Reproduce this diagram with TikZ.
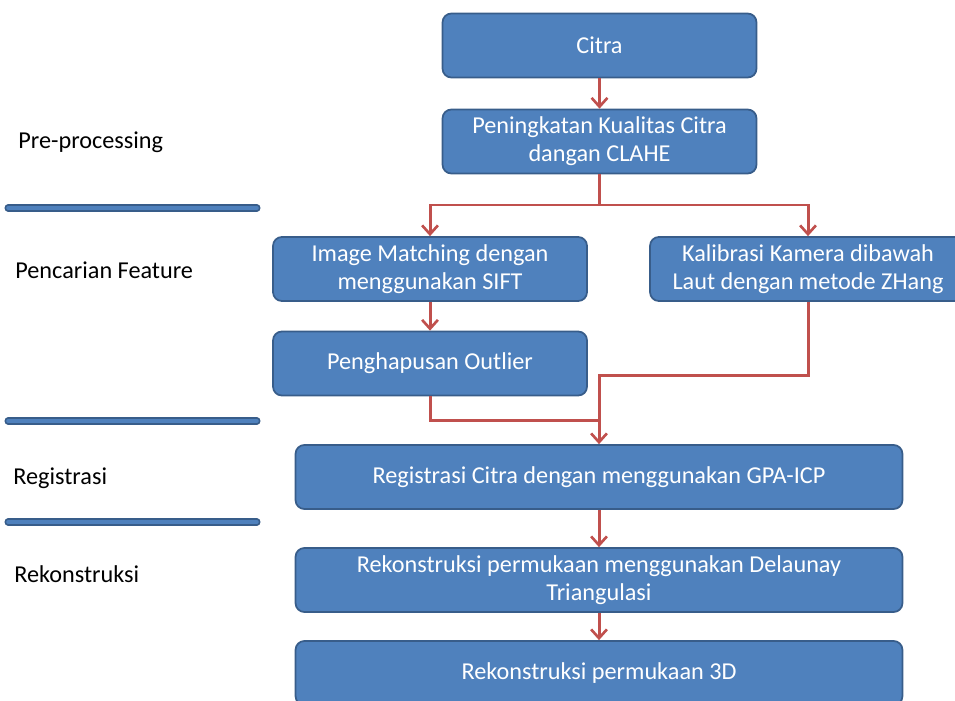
\documentclass[tikz,border=0pt]{standalone}
\usepackage{fontspec}
\setmainfont{Carlito}
\usetikzlibrary{arrows.meta}

\definecolor{boxblue}{RGB}{79,129,189}
\definecolor{boxedge}{RGB}{56,93,138}
\definecolor{flowred}{RGB}{192,80,77}

\tikzset{
  stage/.style={rectangle, rounded corners=5pt, draw=boxedge, line width=1pt,
    fill=boxblue, text=white, align=center, inner sep=0pt,
    font=\fontsize{13.8}{16}\selectfont},
  half/.style={stage, minimum width=6.28cm, minimum height=1.28cm},
  full/.style={stage, minimum width=12.14cm, minimum height=1.28cm},
  phase/.style={anchor=west, inner sep=0pt, font=\fontsize{13.8}{16}\selectfont},
  flow/.style={draw=flowred, line width=1.7pt},
  tip/.style={-{Straight Barb[length=5pt,width=9pt,line width=1.5pt]}},
  divider/.style={line width=4pt, draw=boxedge, line cap=round}
}

\begin{document}
\begin{tikzpicture}[x=0.02cm, y=-0.02cm]
        \clip (0,0) rectangle (955,700);

        % phase labels and dividers
        \node[phase] (lpre) at (18, 142) {Pre-processing};
        \node[phase] (lfeat) at (15, 270) {Pencarian Feature};
        \node[phase] (lreg) at (13, 478) {Registrasi};
        \node[phase] (lrek) at (14, 574) {Rekonstruksi};
        \draw[divider] (8, 208) -- (257, 208);
        \draw[divider] (8, 421) -- (257, 421);
        \draw[divider] (8, 522) -- (257, 522);
        \draw[line width=2pt, draw=boxblue, line cap=round] (8, 208) -- (257, 208);
        \draw[line width=2pt, draw=boxblue, line cap=round] (8, 421) -- (257, 421);
        \draw[line width=2pt, draw=boxblue, line cap=round] (8, 522) -- (257, 522);

        % stages
        \node[half] (citra) at (599.5, 45.5) {Citra};
        \node[half] (clahe) at (599.5, 141.5) {Peningkatan Kualitas Citra\\dangan CLAHE};
        \node[half] (sift) at (430, 269) {Image Matching dengan\\menggunakan SIFT};
        \node[half, minimum width=6.32cm] (zhang) at (808, 269) {Kalibrasi Kamera dibawah\\Laut dengan metode ZHang};
        \node[half] (outlier) at (430, 363.5) {Penghapusan Outlier};
        \node[full] (regis) at (599, 477) {Registrasi Citra dengan menggunakan GPA-ICP};
        \node[full] (delaunay) at (599, 580) {Rekonstruksi permukaan menggunakan Delaunay\\Triangulasi};
        \node[full] (rek3d) at (599, 673) {Rekonstruksi permukaan 3D};

        \coordinate (split) at (599.5, 205);
        \coordinate (join1) at (599, 420);
        \coordinate (join2) at (599, 375);

        % connectors
        \draw[flow, tip] (citra) -- (clahe);
        \draw[flow] (clahe.south) -- (split);
        \draw[flow, tip] (split) -| (sift.north);
        \draw[flow, tip] (split) -| (zhang.north);
        \draw[flow, tip] (sift) -- (outlier);
        \draw[flow] (outlier.south) |- (join1);
        \draw[flow, tip] (zhang.south) |- (join2) -- (regis.north);
        \draw[flow, tip] (regis) -- (delaunay);
        \draw[flow, tip] (delaunay) -- (rek3d);

    \end{tikzpicture}
\end{document}
